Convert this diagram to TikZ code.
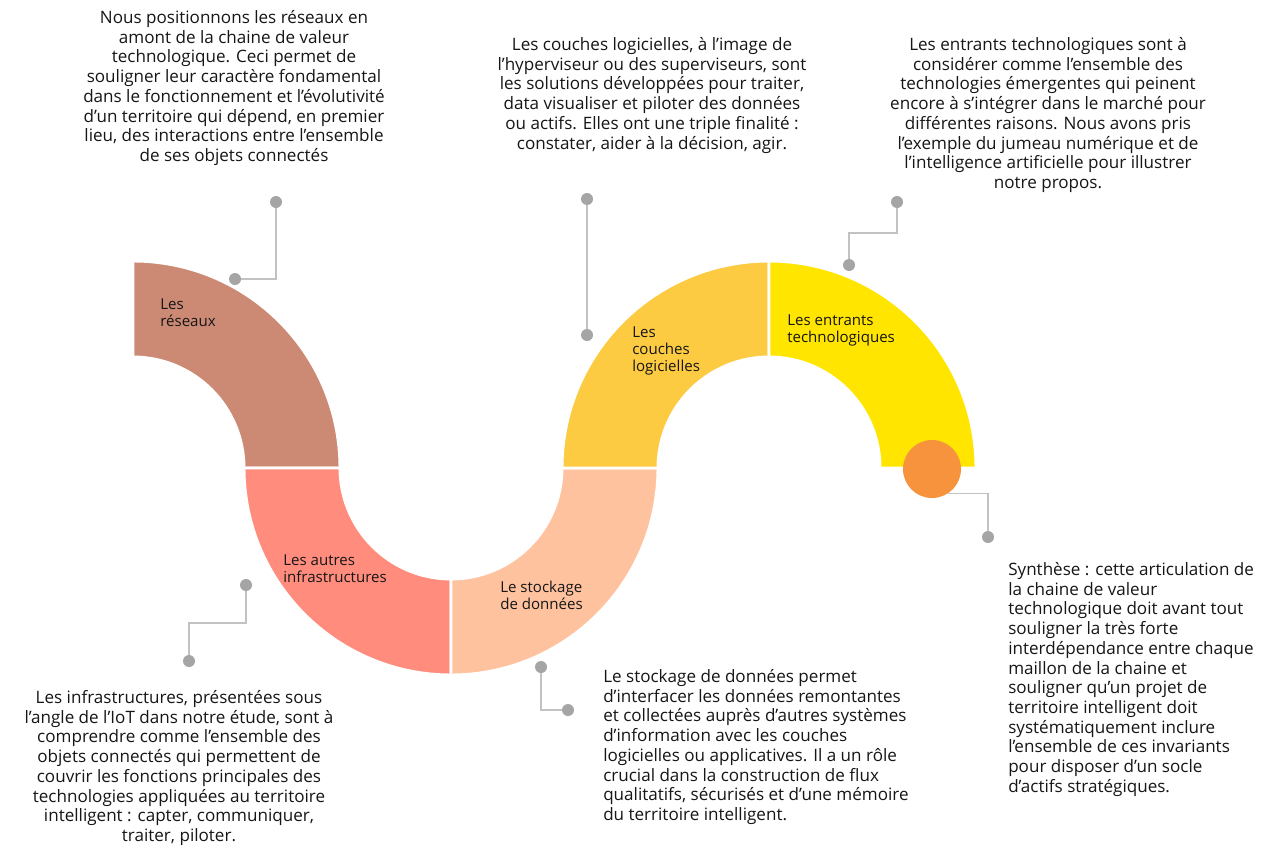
\documentclass[tikz,border=0pt]{standalone}
\usepackage{fontspec}
\setmainfont{Open Sans}
\definecolor{cReseau}{HTML}{CC8A74}
\definecolor{cInfra}{HTML}{FF8C7C}
\definecolor{cStock}{HTML}{FFC29E}
\definecolor{cCouche}{HTML}{FDCB42}
\definecolor{cEntrant}{HTML}{FFE500}
\definecolor{cSynth}{HTML}{F7923D}
\definecolor{dotgray}{HTML}{A5A5A5}
\definecolor{leadgray}{HTML}{C2C2C2}
\definecolor{ink}{HTML}{161616}
\begin{document}
\begin{tikzpicture}[x=0.75pt,y=-0.75pt,
  band/.style={draw=white, line width=2.2pt},
  dot/.style={circle, fill=dotgray, minimum size=9pt, inner sep=0pt},
  lead/.style={draw=leadgray, line width=1.1pt},
  desc/.style={font=\fontsize{12.8}{14.8}\selectfont, text=ink, inner sep=0pt},
  lbl/.style={font=\fontsize{11.3}{12.8}\selectfont, text=ink, inner sep=0pt, align=left, anchor=north west}]
\useasboundingbox (0,0) rectangle (1266,846);
\fill[white] (0,0) rectangle (1266,846);

% S-shaped chain of quarter rings (outer radius 207, inner radius 111)
\def\Ro{207}\def\Ri{111}
% Les réseaux: centre (133,468)
\fill[cReseau, band] (133,261) arc[start angle=270, end angle=360, radius=\Ro]
  -- (244,468) arc[start angle=0, end angle=-90, radius=\Ri] -- cycle;
% Les autres infrastructures: centre (451,468)
\fill[cInfra, band] (244,468) arc[start angle=180, end angle=90, radius=\Ro]
  -- (451,579) arc[start angle=90, end angle=180, radius=\Ri] -- cycle;
% Le stockage de données
\fill[cStock, band] (451,675) arc[start angle=90, end angle=0, radius=\Ro]
  -- (562,468) arc[start angle=0, end angle=90, radius=\Ri] -- cycle;
% Les couches logicielles: centre (769,468)
\fill[cCouche, band] (562,468) arc[start angle=180, end angle=270, radius=\Ro]
  -- (769,357) arc[start angle=270, end angle=180, radius=\Ri] -- cycle;
% Les entrants technologiques
\fill[cEntrant, band] (769,261) arc[start angle=270, end angle=360, radius=\Ro]
  -- (880,468) arc[start angle=360, end angle=270, radius=\Ri] -- cycle;

% synthesis marker
\node[circle, fill=cSynth, minimum size=43.5pt, inner sep=0pt] (syn) at (932,469) {};

% ring labels
\node[lbl] (lReseau) at (160,298) {Les\\réseaux};
\node[lbl] (lInfra) at (283,554) {Les autres\\infrastructures};
\node[lbl] (lStock) at (500,581) {Le stockage\\de données};
\node[lbl] (lCouche) at (632,326) {Les\\couches\\logicielles};
\node[lbl] (lEntrant) at (787,314) {Les entrants\\technologiques};

% leader dots
\node[dot] (d1a) at (235,279) {};
\node[dot] (d1b) at (276,202) {};
\node[dot] (d2a) at (587,199) {};
\node[dot] (d2b) at (587,335) {};
\node[dot] (d3a) at (897,202) {};
\node[dot] (d3b) at (849,265) {};
\node[dot] (d4) at (988,537) {};
\node[dot] (d5a) at (246,585) {};
\node[dot] (d5b) at (189,661) {};
\node[dot] (d6a) at (541,667) {};
\node[dot] (d6b) at (568,710) {};
\coordinate (k3) at (897,233);
\coordinate (k5) at (246,623);

% leader lines
\draw[lead] (d1a) -| (d1b);
\draw[lead] (d2a) -- (d2b);
\draw[lead] (d3a) -- (k3) -| (d3b);
\draw[lead] (syn.-56) -| (d4);
\draw[lead] (d5a) -- (k5) -| (d5b);
\draw[lead] (d6a) |- (d6b);

% descriptions
\node[desc, align=center, anchor=north] (tReseau) at (234,10) {Nous positionnons les réseaux en\\
amont de la chaine de valeur\\
technologique. Ceci permet de\\
souligner leur caractère fondamental\\
dans le fonctionnement et l’évolutivité\\
d’un territoire qui dépend, en premier\\
lieu, des interactions entre l’ensemble\\
de ses objets connectés};

\node[desc, align=center, anchor=north] (tCouche) at (652,37) {Les couches logicielles, à l’image de\\
l’hyperviseur ou des superviseurs, sont\\
les solutions développées pour traiter,\\
data visualiser et piloter des données\\
ou actifs. Elles ont une triple finalité :\\
constater, aider à la décision, agir.};

\node[desc, align=center, anchor=north] (tEntrant) at (1048,37) {Les entrants technologiques sont à\\
considérer comme l’ensemble des\\
technologies émergentes qui peinent\\
encore à s’intégrer dans le marché pour\\
différentes raisons. Nous avons pris\\
l’exemple du jumeau numérique et de\\
l’intelligence artificielle pour illustrer\\
notre propos.};

\node[desc, align=center, anchor=north] (tInfra) at (179,690) {Les infrastructures, présentées sous\\
l’angle de l’IoT dans notre étude, sont à\\
comprendre comme l’ensemble des\\
objets connectés qui permettent de\\
couvrir les fonctions principales des\\
technologies appliquées au territoire\\
intelligent : capter, communiquer,\\
traiter, piloter.};

\node[desc, align=left, anchor=north west] (tStock) at (603,669) {Le stockage de données permet\\
d’interfacer les données remontantes\\
et collectées auprès d’autres systèmes\\
d’information avec les couches\\
logicielles ou applicatives. Il a un rôle\\
crucial dans la construction de flux\\
qualitatifs, sécurisés et d’une mémoire\\
du territoire intelligent.};

\node[desc, align=left, anchor=north west] (tSynth) at (1008,562) {Synthèse : cette articulation de\\
la chaine de valeur\\
technologique doit avant tout\\
souligner la très forte\\
interdépendance entre chaque\\
maillon de la chaine et\\
souligner qu’un projet de\\
territoire intelligent doit\\
systématiquement inclure\\
l’ensemble de ces invariants\\
pour disposer d’un socle\\
d’actifs stratégiques.};
\end{tikzpicture}
\end{document}
